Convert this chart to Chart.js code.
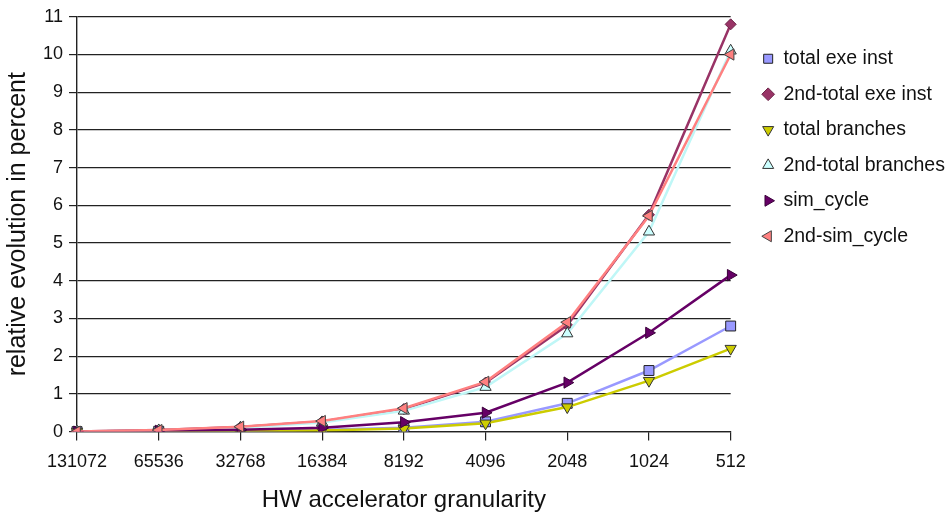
<!DOCTYPE html>
<html><head><meta charset="utf-8">
<script src="https://cdn.jsdelivr.net/npm/chart.js@4.4.0/dist/chart.umd.min.js"></script>
<style>html,body{margin:0;padding:0;background:#fff}#wrap{width:947px;height:517px;position:relative}</style>
</head><body><div id="wrap"><canvas id="c" width="947" height="517"></canvas></div>
<script>
const categories = ['131072','65536','32768','16384','8192','4096','2048','1024','512'];
const totalExeInst = [0, 0.01, 0.02, 0.05, 0.1, 0.26, 0.75, 1.62, 2.8];
const secondTotalExeInst = [0, 0.04, 0.12, 0.27, 0.6, 1.3, 2.82, 5.75, 10.8];
const totalBranches = [0, 0, 0.01, 0.03, 0.08, 0.22, 0.65, 1.35, 2.2];
const secondTotalBranches = [0, 0.03, 0.1, 0.24, 0.55, 1.18, 2.6, 5.3, 10.1];
const simCycle = [0, 0.02, 0.05, 0.1, 0.25, 0.5, 1.3, 2.62, 4.15];
const secondSimCycle = [0, 0.04, 0.13, 0.28, 0.62, 1.32, 2.9, 5.72, 10.0];
const seriesNames = ['total exe inst','2nd-total exe inst','total branches','2nd-total branches','sim_cycle','2nd-sim_cycle'];

const FONT = "'Liberation Sans', Arial, sans-serif";
const styles = [
  {line:'#9999ff', fill:'#9999ff', border:'#222', ps:'rect', rot:0, r:7},
  {line:'#993366', fill:'#993366', border:'#6b2347', ps:'rectRot', rot:0, r:5.5},
  {line:'#cccc00', fill:'#cccc00', border:'#333', ps:'triangle', rot:180, r:6.5},
  {line:'#bff7f7', fill:'#ccffff', border:'#333', ps:'triangle', rot:0, r:6.5},
  {line:'#660066', fill:'#660066', border:'#3a003a', ps:'triangle', rot:90, r:6.5},
  {line:'#ff8080', fill:'#ff8080', border:'#444', ps:'triangle', rot:-90, r:6.5}
];
const allData = [totalExeInst, secondTotalExeInst, totalBranches, secondTotalBranches, simCycle, secondSimCycle];

const datasets = allData.map((d, i) => ({
  label: seriesNames[i],
  data: d,
  borderColor: styles[i].line,
  backgroundColor: styles[i].fill,
  borderWidth: 2.5,
  pointStyle: styles[i].ps,
  pointRotation: styles[i].rot,
  pointRadius: styles[i].r,
  pointBackgroundColor: styles[i].fill,
  pointBorderColor: styles[i].border,
  pointBorderWidth: 1,
  tension: 0,
  order: 5 - i
}));

const placeLegend = {
  id: 'placeLegend',
  afterLayout(chart) {
    const lg = chart.legend;
    if (lg) {
      lg.left = chart.chartArea.right + 16;
      lg.right = chart.width;
      lg.width = lg.right - lg.left;
    }
  }
};

new Chart(document.getElementById('c'), {
  type: 'line',
  data: { labels: categories, datasets },
  plugins: [placeLegend],
  options: {
    responsive: false,
    animation: false,
    devicePixelRatio: 1,
    layout: { padding: { left: 3, top: 5, right: 0, bottom: 2 } },
    plugins: {
      tooltip: { enabled: false },
      legend: {
        position: 'right',
        align: 'start',
        title: { display: true, text: '', font: { size: 10, family: FONT }, padding: { top: 16, bottom: 0 } },
        labels: {
          usePointStyle: true,
          boxWidth: 11,
          boxHeight: 9,
          padding: 16,
          color: '#111',
          font: { size: 19.5, family: FONT },
          sort: (a, b) => a.datasetIndex - b.datasetIndex
        }
      }
    },
    scales: {
      x: {
        type: 'category',
        offset: false,
        grid: { display: true, drawOnChartArea: false, drawTicks: true, tickLength: 9, color: '#222', lineWidth: 1.2 },
        border: { display: true, color: '#222', width: 1.2 },
        ticks: { color: '#111', font: { size: 18, family: FONT }, padding: 11, maxRotation: 0, autoSkip: false },
        title: { display: true, text: 'HW accelerator granularity', color: '#111', font: { size: 24, family: FONT }, padding: { top: 2, bottom: 0 } }
      },
      y: {
        min: 0, max: 11,
        grid: { display: true, drawOnChartArea: true, drawTicks: true, tickLength: 8, color: '#222', lineWidth: 1.2 },
        border: { display: true, color: '#222', width: 1.4 },
        ticks: { stepSize: 1, color: '#111', font: { size: 18, family: FONT }, padding: 6 },
        title: { display: true, text: 'relative evolution in percent', color: '#111', font: { size: 25, family: FONT }, padding: { top: 0, bottom: 4 } }
      },
      y2: {
        type: 'linear',
        position: 'right',
        display: true,
        grid: { display: false, drawTicks: false },
        border: { display: false },
        ticks: { display: false },
        afterFit(s) { s.width = 59; }
      }
    }
  }
});
</script>
</body></html>
